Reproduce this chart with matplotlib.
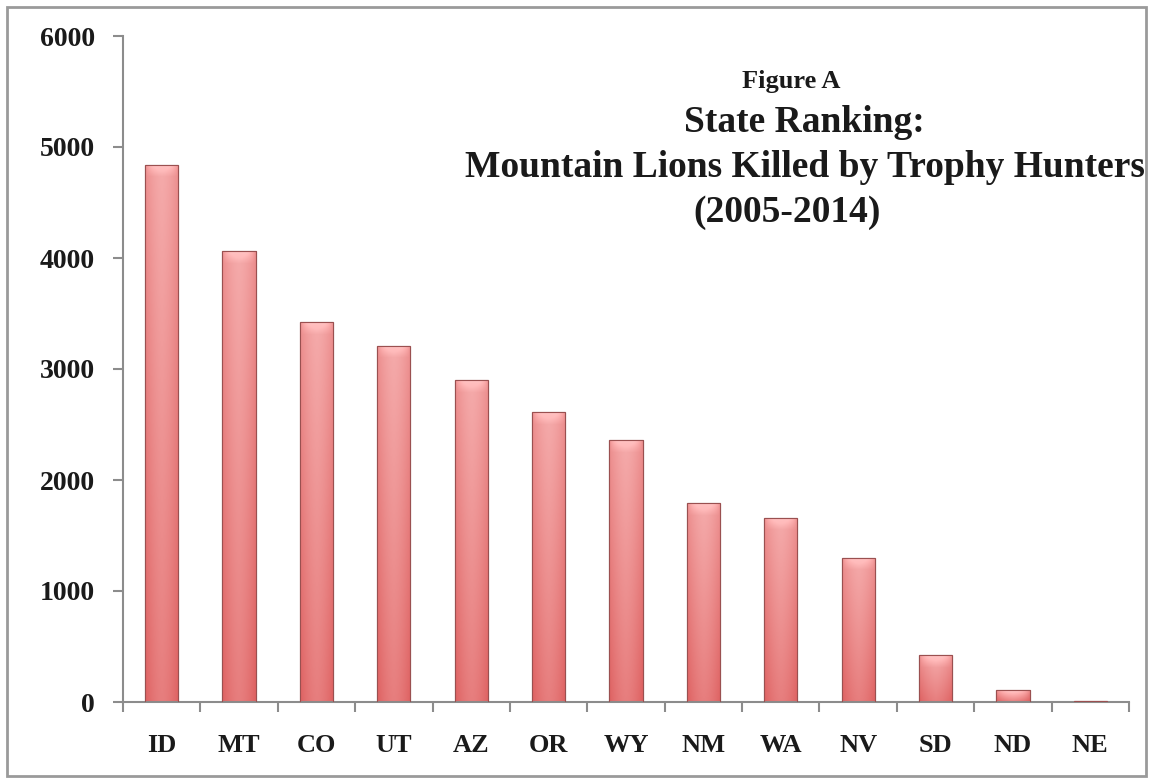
import matplotlib
matplotlib.use('Agg')
import matplotlib.pyplot as plt
import matplotlib.patches as mpatches
import numpy as np

# Data
states = ['ID', 'MT', 'CO', 'UT', 'AZ', 'OR', 'WY', 'NM', 'WA', 'NV', 'SD', 'ND', 'NE']
kills = [4840, 4060, 3420, 3210, 2900, 2610, 2360, 1790, 1660, 1300, 420, 110, 8]
yticks = [0, 1000, 2000, 3000, 4000, 5000, 6000]

title_small = 'Figure A'
title_lines = ['State Ranking:', 'Mountain Lions Killed by Trophy Hunters', '(2005-2014)']

W, H = 1153, 783
FONT = 'Liberation Serif'
fig = plt.figure(figsize=(W / 100, H / 100), dpi=100)
ax = fig.add_axes([123 / W, 1 - 702 / H, (1129 - 123) / W, (702 - 36) / H])

# outer frame around the whole chart
fig.patches.append(mpatches.Rectangle((7 / W, 7 / H), (1146 - 7) / W, (776 - 7) / H,
                                      transform=fig.transFigure, fill=False,
                                      edgecolor='#9a9a9a', linewidth=2))

x = np.arange(len(states))
bars = ax.bar(x, kills, width=0.43, color='#e8777a', edgecolor='#8a4444',
              linewidth=0.8, zorder=2)

# shaded fill: lighter in the middle and towards the top, small bevel at the top
px_per_unit = (702 - 36) / 6000
nx = 48
u = np.linspace(-1, 1, nx)
horiz = 1 - np.abs(u) ** 1.6
dark = np.array([0.87, 0.38, 0.38])
light = np.array([0.97, 0.70, 0.70])
for bar in bars:
    h = bar.get_height()
    if h <= 0:
        continue
    hpx = max(int(round(h * px_per_unit)), 2)
    v = np.linspace(0, 1, hpx)[:, None]  # 0 bottom, 1 top
    t = 0.35 * horiz[None, :] + 0.55 * v
    # bevel highlight in the top few pixels
    dist_top = (hpx - 1 - np.arange(hpx))[:, None]
    bevel = np.clip(1 - dist_top / 12.0, 0, 1) * (1 - np.abs(u[None, :]) ** 4)
    t = np.clip(t + 0.25 * bevel, 0, 1)
    img = dark[None, None, :] * (1 - t[..., None]) + light[None, None, :] * t[..., None]
    img = np.clip(img + 0.06 * bevel[..., None], 0, 1)
    im = ax.imshow(img, origin='lower', aspect='auto', zorder=2.5,
                   extent=(bar.get_x(), bar.get_x() + bar.get_width(), 0, h),
                   interpolation='bilinear')
    im.set_clip_path(bar)
    ax.add_patch(mpatches.Rectangle((bar.get_x(), 0), bar.get_width(), h,
                                    fill=False, edgecolor='#9a5050', linewidth=0.8,
                                    zorder=3))

ax.set_xlim(-0.5, len(states) - 0.5)
ax.set_ylim(0, 6000)
ax.set_yticks(yticks)
ax.set_xticks(x)
ax.set_xticklabels(states)
ax.set_xticks(np.arange(len(states) + 1) - 0.5, minor=True)

for lab in ax.get_yticklabels():
    lab.set_fontfamily(FONT)
    lab.set_fontweight('bold')
    lab.set_fontsize(20)
    lab.set_color('#1a1a1a')
for lab in ax.get_xticklabels():
    lab.set_fontfamily(FONT)
    lab.set_fontweight('bold')
    lab.set_fontsize(19)
    lab.set_color('#1a1a1a')

ax.tick_params(axis='x', which='major', length=0, pad=23)
ax.tick_params(axis='x', which='minor', length=7, color='#8c8c8c', width=1.5)
ax.tick_params(axis='y', length=7, color='#8c8c8c', width=1.5, pad=13)

for s in ['top', 'right']:
    ax.spines[s].set_visible(False)
for s in ['left', 'bottom']:
    ax.spines[s].set_color('#8c8c8c')
    ax.spines[s].set_linewidth(1.5)

fig.text(791 / W, 1 - 88 / H, title_small, ha='center', va='baseline',
         fontfamily=FONT, fontweight='bold', fontsize=19, color='#1a1a1a')
for txt, cx, by in zip(title_lines, [804, 805, 787], [132, 177, 222]):
    fig.text(cx / W, 1 - by / H, txt, ha='center', va='baseline',
             fontfamily=FONT, fontweight='bold', fontsize=27, color='#1a1a1a')

fig.savefig('out.png', dpi=100, facecolor='white')
